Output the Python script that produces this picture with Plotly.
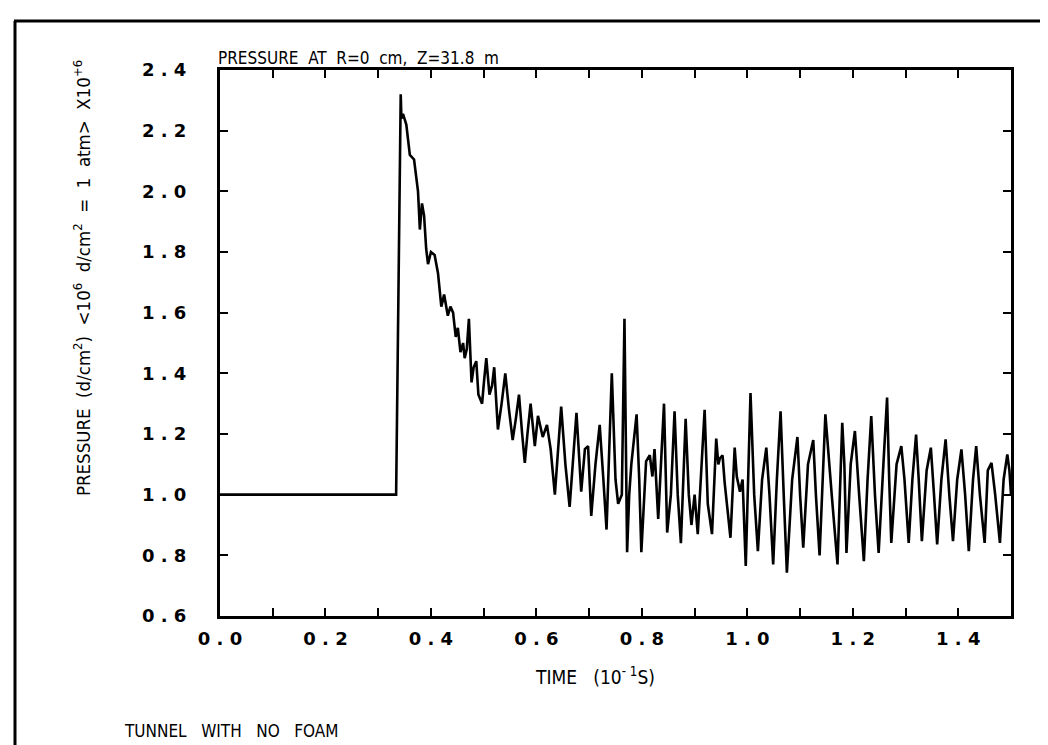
import plotly.graph_objects as go

# ---- data ----
time_vals = [
    0.000, 0.334, 0.3427, 0.344, 0.347, 0.3533, 0.360, 0.368, 0.3755, 0.379, 0.383, 0.387,
    0.391, 0.3945, 0.400, 0.407, 0.4134, 0.4197, 0.425, 0.429, 0.432, 0.437, 0.442, 0.447,
    0.451, 0.456, 0.461, 0.464, 0.468, 0.472, 0.477, 0.481, 0.486, 0.490, 0.497, 0.501,
    0.505, 0.511, 0.516, 0.520, 0.524, 0.527, 0.534, 0.541, 0.548, 0.555, 0.561, 0.567,
    0.573, 0.578, 0.583, 0.589, 0.597, 0.603, 0.612, 0.620, 0.627, 0.635, 0.647, 0.655,
    0.663, 0.676, 0.685, 0.692, 0.698, 0.704, 0.712, 0.720, 0.727, 0.733, 0.743, 0.750,
    0.755, 0.762, 0.767, 0.772, 0.776, 0.780, 0.790, 0.795, 0.799, 0.808, 0.815, 0.820,
    0.824, 0.831, 0.842, 0.848, 0.855, 0.862, 0.868, 0.874, 0.883, 0.889, 0.894, 0.900,
    0.906, 0.919, 0.925, 0.933, 0.941, 0.945, 0.948, 0.953, 0.957, 0.968, 0.976, 0.980,
    0.986, 0.991, 0.997, 1.006, 1.013, 1.020, 1.028, 1.036, 1.042, 1.049, 1.056, 1.063,
    1.069, 1.075, 1.085, 1.095, 1.100, 1.106, 1.115, 1.125, 1.130, 1.137, 1.148, 1.155,
    1.160, 1.171, 1.180, 1.184, 1.188, 1.196, 1.204, 1.212, 1.221, 1.228, 1.235, 1.242,
    1.249, 1.258, 1.265, 1.269, 1.273, 1.283, 1.292, 1.298, 1.306, 1.313, 1.320, 1.325,
    1.331, 1.340, 1.348, 1.354, 1.360, 1.368, 1.376, 1.383, 1.390, 1.398, 1.406, 1.413,
    1.420, 1.428, 1.434, 1.441, 1.450, 1.456, 1.463, 1.470, 1.479, 1.486, 1.493, 1.497,
    1.500,
]
pressure_vals = [
    1.000, 1.000, 2.320, 2.240, 2.255, 2.220, 2.120, 2.105, 2.000, 1.874, 1.960, 1.920,
    1.810, 1.760, 1.800, 1.790, 1.730, 1.620, 1.660, 1.616, 1.590, 1.620, 1.600, 1.520,
    1.550, 1.470, 1.500, 1.450, 1.480, 1.580, 1.370, 1.420, 1.440, 1.330, 1.300, 1.380,
    1.450, 1.330, 1.360, 1.420, 1.300, 1.215, 1.300, 1.400, 1.280, 1.180, 1.250, 1.330,
    1.200, 1.105, 1.200, 1.300, 1.160, 1.260, 1.190, 1.230, 1.150, 1.000, 1.290, 1.100,
    0.960, 1.270, 1.010, 1.150, 1.160, 0.930, 1.100, 1.230, 1.050, 0.885, 1.400, 1.050,
    0.970, 1.000, 1.580, 0.810, 1.000, 1.100, 1.265, 1.050, 0.810, 1.110, 1.130, 1.060,
    1.150, 0.920, 1.300, 0.875, 1.000, 1.275, 1.000, 0.840, 1.250, 1.000, 0.900, 1.000,
    0.870, 1.280, 0.970, 0.870, 1.185, 1.100, 1.120, 1.130, 1.040, 0.858, 1.155, 1.060,
    1.010, 1.050, 0.765, 1.335, 1.000, 0.814, 1.050, 1.155, 1.000, 0.770, 1.050, 1.275,
    1.000, 0.743, 1.050, 1.190, 1.000, 0.825, 1.100, 1.180, 1.000, 0.800, 1.265, 1.100,
    1.000, 0.770, 1.237, 1.100, 0.808, 1.100, 1.210, 1.000, 0.781, 1.050, 1.259, 1.000,
    0.808, 1.100, 1.320, 1.050, 0.841, 1.100, 1.160, 1.050, 0.841, 1.050, 1.198, 1.050,
    0.847, 1.080, 1.155, 1.000, 0.836, 1.050, 1.182, 1.000, 0.847, 1.050, 1.149, 1.000,
    0.814, 1.050, 1.160, 1.000, 0.841, 1.080, 1.105, 1.000, 0.841, 1.050, 1.133, 1.080,
    1.000,
]

x_tick_vals = [0.0, 0.1, 0.2, 0.3, 0.4, 0.5, 0.6, 0.7, 0.8, 0.9, 1.0, 1.1, 1.2, 1.3, 1.4]
x_tick_text = ["0 . 0", "", "0 . 2", "", "0 . 4", "", "0 . 6", "", "0 . 8", "",
               "1 . 0", "", "1 . 2", "", "1 . 4"]
y_tick_vals = [0.6, 0.8, 1.0, 1.2, 1.4, 1.6, 1.8, 2.0, 2.2, 2.4]
y_tick_text = ["0 . 6", "0 . 8", "1 . 0", "1 . 2", "1 . 4", "1 . 6", "1 . 8",
               "2 . 0", "2 . 2", "2 . 4"]

title_text = "PRESSURE  AT  R=0  cm,  Z=31.8  m"
y_title = ("PRESSURE  (d/cm<sup>2</sup>)  &lt;10<sup>6</sup>  d/cm<sup>2</sup>  =  1  atm&gt;  X10<sup>+6</sup>")
x_title = "TIME   (10<sup>- 1</sup>S)"
note_text = "TUNNEL   WITH   NO   FOAM"

COND = "Liberation Sans Narrow, DejaVu Sans Condensed, Roboto Condensed, Arial Narrow, sans-serif"
TICKF = "DejaVu Sans, Verdana, sans-serif"

fig = go.Figure()
fig.add_trace(go.Scatter(x=time_vals, y=pressure_vals, mode="lines",
                         line=dict(color="black", width=2.6),
                         showlegend=False, hoverinfo="skip"))

fig.update_layout(
    width=1048, height=745,
    margin=dict(l=212, r=45, t=62, b=137),
    paper_bgcolor="white", plot_bgcolor="white",
    showlegend=False,
)
fig.update_xaxes(
    range=[0, 1.5], showgrid=False, zeroline=False,
    showline=True, linecolor="black", linewidth=3, mirror="ticks",
    ticks="inside", ticklen=8, tickwidth=2, tickcolor="black",
    tickvals=x_tick_vals, ticktext=x_tick_text,
    tickfont=dict(family=TICKF, size=18, color="black", weight="bold"),
    ticklabelstandoff=4,
)
fig.update_yaxes(
    range=[0.6, 2.4], showgrid=False, zeroline=False,
    showline=True, linecolor="black", linewidth=3, mirror="ticks",
    ticks="inside", ticklen=8, tickwidth=2, tickcolor="black",
    tickvals=y_tick_vals, ticktext=y_tick_text,
    tickfont=dict(family=TICKF, size=18, color="black", weight="bold"),
    ticklabelstandoff=27,
)

def px2x(px):
    return (px - 212) / 791.0

def py2y(py):
    return (608 - py) / 546.0

fig.add_annotation(text=title_text, xref="paper", yref="paper",
                   x=px2x(208), y=py2y(50), xanchor="left", yanchor="middle",
                   showarrow=False, font=dict(family=COND, size=17, color="black"))
fig.add_annotation(text=y_title, xref="paper", yref="paper",
                   x=px2x(74), y=py2y(270), xanchor="center", yanchor="middle",
                   textangle=-90, showarrow=False,
                   font=dict(family=COND, size=18.5, color="black"))
fig.add_annotation(text=x_title, xref="paper", yref="paper",
                   x=px2x(587), y=py2y(668), xanchor="center", yanchor="middle",
                   showarrow=False, font=dict(family=COND, size=19, color="black"))
fig.add_annotation(text=note_text, xref="paper", yref="paper",
                   x=px2x(114), y=py2y(723), xanchor="left", yanchor="middle",
                   showarrow=False, font=dict(family=COND, size=17, color="black"))

# outer page frame (left and top edges)
fig.add_shape(type="line", xref="paper", yref="paper",
              x0=px2x(7), y0=py2y(745), x1=px2x(7), y1=py2y(13),
              line=dict(color="black", width=3))
fig.add_shape(type="line", xref="paper", yref="paper",
              x0=px2x(6), y0=py2y(13), x1=px2x(1048), y1=py2y(13),
              line=dict(color="black", width=3))

fig.write_html("out.html")
